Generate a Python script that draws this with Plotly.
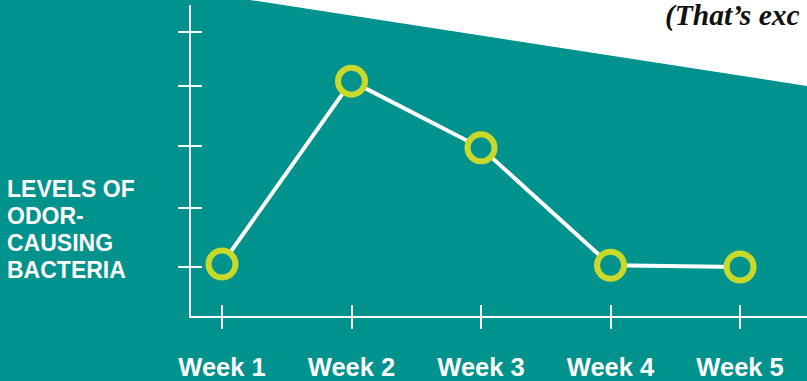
import plotly.graph_objects as go

# ---- data ----
weeks = ["Week 1", "Week 2", "Week 3", "Week 4", "Week 5"]
bacteria_levels = [0.88, 3.98, 2.85, 0.86, 0.83]
y_tick_levels = [0.83, 1.83, 2.88, 3.90, 4.82]
axis_title_lines = ["LEVELS OF", "ODOR-", "CAUSING", "BACTERIA"]
tagline = "(That’s exc"

TEAL = "#00928C"
LIME = "#C9D92B"
WHITE = "#FFFFFF"

fig = go.Figure()

fig.add_trace(go.Scatter(
    x=weeks, y=bacteria_levels, mode="lines+markers",
    line=dict(color=WHITE, width=4),
    marker=dict(size=27, color=TEAL, line=dict(color=LIME, width=6)),
    hoverinfo="skip", showlegend=False,
))
# invisible helper trace for the overlay axes (inner half of crossing ticks)
fig.add_trace(go.Scatter(
    x=weeks, y=bacteria_levels, xaxis="x2", yaxis="y2", mode="markers",
    marker=dict(opacity=0), hoverinfo="skip", showlegend=False,
))

xr = [-0.2394, 4.517]
yr = [0, 5.271]

fig.update_layout(
    width=807, height=381,
    margin=dict(l=191, r=0, t=5, b=65),
    paper_bgcolor=TEAL, plot_bgcolor="rgba(0,0,0,0)",
    xaxis=dict(
        range=xr, showgrid=False, zeroline=False,
        showline=True, linecolor=WHITE, linewidth=2,
        ticks="outside", ticklen=11, tickwidth=2, tickcolor=WHITE,
        tickfont=dict(family="Liberation Sans", size=25.5, color=WHITE, weight="bold"),
        ticklabelstandoff=16, fixedrange=True,
    ),
    yaxis=dict(
        range=yr, showgrid=False, zeroline=False,
        showline=True, linecolor=WHITE, linewidth=2,
        tickmode="array", tickvals=y_tick_levels, showticklabels=False,
        ticks="outside", ticklen=11, tickwidth=2, tickcolor=WHITE, fixedrange=True,
    ),
    xaxis2=dict(
        overlaying="x", anchor="y2", range=xr, showgrid=False, zeroline=False,
        showline=False, showticklabels=False,
        ticks="inside", ticklen=11, tickwidth=2, tickcolor=WHITE, fixedrange=True,
    ),
    yaxis2=dict(
        overlaying="y", anchor="x2", range=yr, showgrid=False, zeroline=False,
        showline=False, showticklabels=False, tickmode="array", tickvals=y_tick_levels,
        ticks="inside", ticklen=11, tickwidth=2, tickcolor=WHITE, fixedrange=True,
    ),
    shapes=[dict(
        type="path", xref="paper", yref="paper", layer="below",
        path="M 0.0432 1.0322 L 1.0162 0.7347 L 1.0162 1.0322 Z",
        fillcolor=WHITE, line=dict(width=0),
    )],
)

# y-axis title, one annotation per line
title_centers_px = [189, 216, 243, 270]
for line, cy in zip(axis_title_lines, title_centers_px):
    fig.add_annotation(
        text=line, xref="paper", yref="paper", x=0, xshift=-186, xanchor="left",
        y=(316 - cy) / 311, yanchor="middle", showarrow=False,
        font=dict(family="Liberation Sans", size=23, color=WHITE, weight="bold"),
    )

fig.add_annotation(
    text=tagline, xref="paper", yref="paper", x=(663 - 191) / 616, xanchor="left",
    y=(316 - 16) / 311, yanchor="middle", showarrow=False,
    font=dict(family="Liberation Serif", size=29.5, color="#111111", weight="bold", style="italic"),
)

fig.write_html("out.html", config={"displayModeBar": False})
